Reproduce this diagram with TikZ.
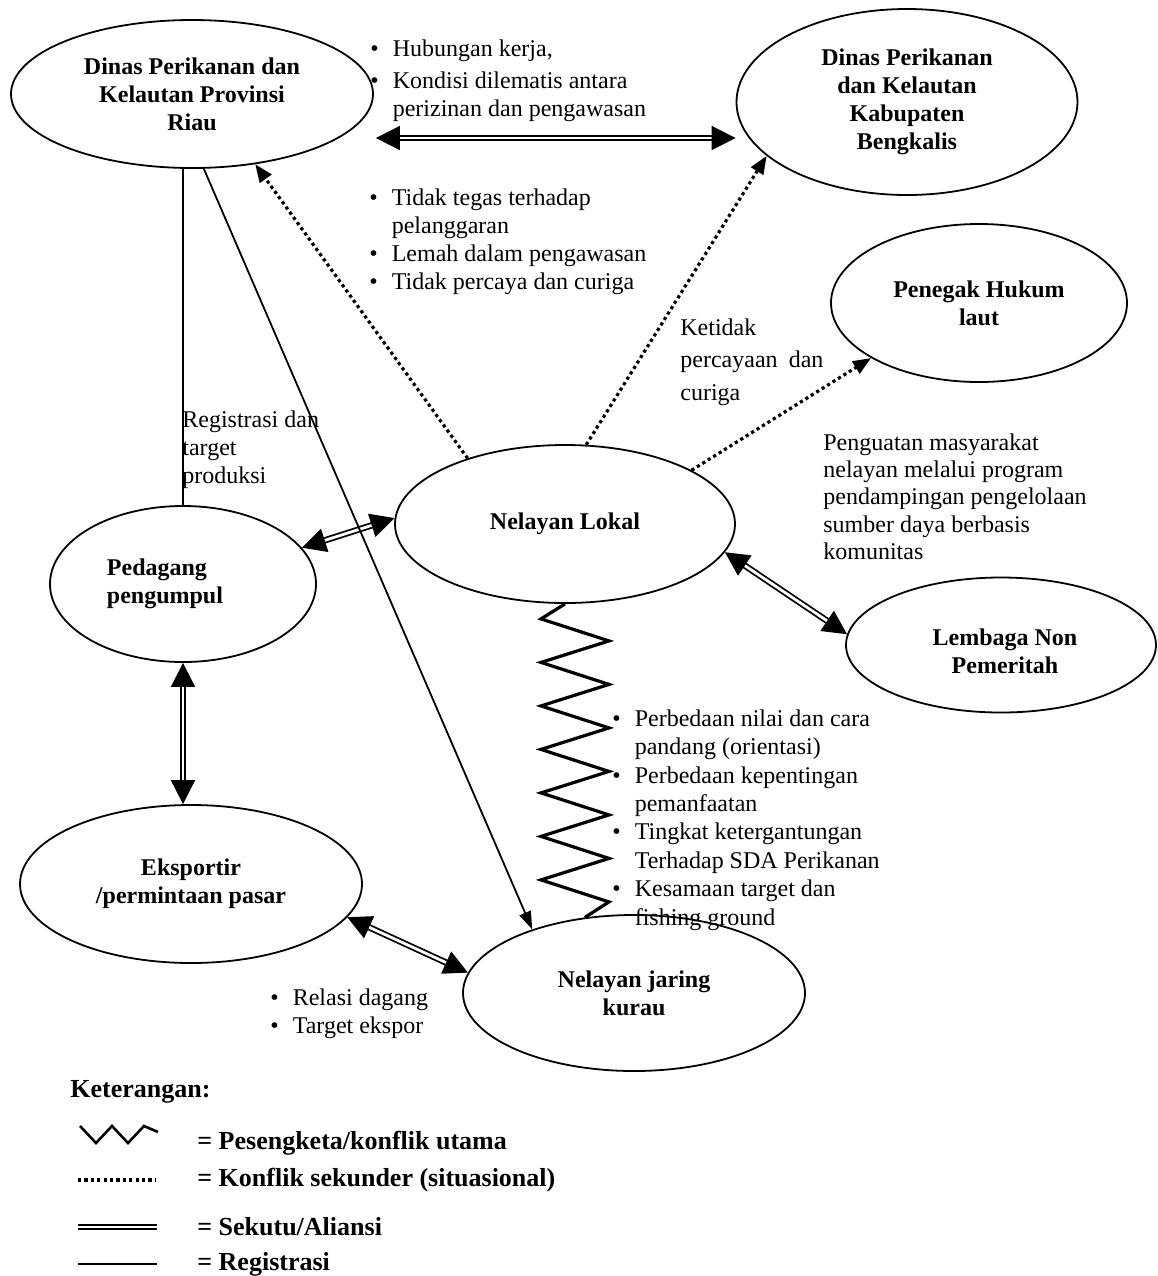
\documentclass[tikz,border=0pt]{standalone}
\usepackage{fontspec}
\setmainfont{Liberation Serif}
\usetikzlibrary{shapes.geometric, arrows.meta}
\definecolor{lineColor}{RGB}{0, 0, 0}
\tikzset{
    % --- aktor (elips) ---
    styleActor/.style={
        ellipse, draw=lineColor, line width=0.9pt, inner sep=0pt,
        align=center, font=\fontsize{12}{14}\selectfont\bfseries
    },
    % --- catatan ---
    styleNote/.style={
        inner sep=0pt, anchor=north west, font=\fontsize{12}{14}\selectfont
    },
    styleLegend/.style={
        inner sep=0pt, anchor=west, font=\fontsize{13}{15}\selectfont\bfseries
    },
    % --- garis ---
    connAlly/.style={
        draw=lineColor, line width=0.9pt, double=white, double distance=1.4pt,
        {Triangle[length=12pt, width=12pt]}-{Triangle[length=12pt, width=12pt]}
    },
    connSecond/.style={
        draw=lineColor, line width=1.6pt, dash pattern=on 1.6pt off 1.6pt,
        -{Triangle[length=9pt, width=7pt]}
    },
    connReg/.style={draw=lineColor, line width=0.9pt},
    connMain/.style={draw=lineColor, line width=1.6pt, line join=miter}
}

\begin{document}
\begin{tikzpicture}[x=0.5pt, y=-0.5pt]
	\useasboundingbox (0,0) rectangle (1158,1276);

	% =========================================================
	% 1. Aktor
	% =========================================================
	\node [styleActor, minimum width=181pt, minimum height=74pt] (prov) at (192,94)
		{Dinas Perikanan dan\\Kelautan Provinsi\\Riau};
	\node [styleActor, minimum width=170.5pt, minimum height=93pt] (bengkalis) at (907,102)
		{Dinas Perikanan\\dan Kelautan\\Kabupaten\\Bengkalis};
	\node [styleActor, minimum width=148pt, minimum height=79pt] (penegak) at (979,303)
		{Penegak Hukum\\laut};
	\node [styleActor, minimum width=170pt, minimum height=79pt] (lokal) at (565,524)
		{Nelayan Lokal};
	\node [styleActor, minimum width=133pt, minimum height=78pt,
		label={[font=\fontsize{12}{14}\selectfont\bfseries, align=left, xshift=-9pt]center:Pedagang\\pengumpul}]
		(pedagang) at (183,584) {};
	\node [styleActor, minimum width=155pt, minimum height=67.5pt,
		label={[font=\fontsize{12}{14}\selectfont\bfseries, align=center, xshift=2pt, yshift=-3pt]center:Lembaga Non\\Pemeritah}]
		(lembaga) at (1001,645) {};
	\node [styleActor, minimum width=171pt, minimum height=79pt] (eksportir) at (191,884)
		{Eksportir\\/permintaan pasar};
	\node [styleActor, minimum width=171pt, minimum height=78pt] (kurau) at (634,993)
		{Nelayan jaring\\kurau};

	% =========================================================
	% 2. Catatan
	% =========================================================
	\node [styleNote] (noteKerja) at (370,36) {\begin{tabular}{@{}c@{\hspace{7pt}}l@{}}
		\textbullet & Hubungan kerja,\\[2pt]
		\textbullet & Kondisi dilematis antara\\
		            & perizinan dan pengawasan
		\end{tabular}};
	\node [styleNote] (noteTegas) at (369,185) {\begin{tabular}{@{}c@{\hspace{7pt}}l@{}}
		\textbullet & Tidak tegas terhadap\\
		            & pelanggaran\\
		\textbullet & Lemah dalam pengawasan\\
		\textbullet & Tidak percaya dan curiga
		\end{tabular}};
	\node [styleNote, font=\fontsize{12}{16.25}\selectfont] (noteCuriga) at (680,312) {\begin{tabular}{@{}l@{}}
		Ketidak\\
		\makebox[71.5pt][s]{percayaan dan}\\
		curiga
		\end{tabular}};
	\node [styleNote] (noteRegistrasi) at (182,407) {\begin{tabular}{@{}l@{}}
		Registrasi dan\\
		target\\
		produksi
		\end{tabular}};
	\node [styleNote, font=\fontsize{12}{13.6}\selectfont] (notePenguatan) at (823,431) {\begin{tabular}{@{}l@{}}
		Penguatan masyarakat\\
		nelayan melalui program\\
		pendampingan pengelolaan\\
		sumber daya berbasis\\
		komunitas
		\end{tabular}};
	\node [styleNote, font=\fontsize{12}{14.2}\selectfont] (notePerbedaan) at (612,706) {\begin{tabular}{@{}c@{\hspace{7pt}}l@{}}
		\textbullet & Perbedaan nilai dan cara\\
		            & pandang (orientasi)\\
		\textbullet & Perbedaan kepentingan\\
		            & pemanfaatan\\
		\textbullet & Tingkat ketergantungan\\
		            & Terhadap SDA Perikanan\\
		\textbullet & Kesamaan target dan\\
		            & fishing ground
		\end{tabular}};
	\node [styleNote] (noteDagang) at (270,985) {\begin{tabular}{@{}c@{\hspace{7pt}}l@{}}
		\textbullet & Relasi dagang\\
		\textbullet & Target ekspor
		\end{tabular}};

	% =========================================================
	% 3. Hubungan
	% =========================================================
	% --- sekutu / aliansi ---
	\draw [connAlly] ([shift={(2,44)}]prov.east) -- ([shift={(0,36)}]bengkalis.west);
	\draw [connAlly] (pedagang.17) -- (lokal.178);
	\draw [connAlly] (pedagang.south) -- (pedagang.south |- eksportir.north);
	\draw [connAlly] (eksportir.-12) -- (kurau.173);
	\draw [connAlly] (lokal.-10) -- (lembaga.176);

	% --- konflik sekunder ---
	\draw [connSecond] (lokal.146) -- (prov.-48);
	\draw [connSecond] (lokal.75) -- (bengkalis.201);
	\draw [connSecond] (lokal.23) -- (penegak.207);

	% --- registrasi ---
	\draw [connReg] (prov.south -| pedagang.north) -- (pedagang.north);
	\draw [connReg, -{Triangle[length=9pt, width=6pt]}] (prov.-81) -- (kurau.148);

	% --- konflik utama ---
	\draw [connMain] (lokal.south) -- ++(-24,15)
		\foreach \i in {1,...,6} { -- ++(68,22) -- ++(-68,21.5) }
		-- ++(68,22) -- (kurau.123);

	% =========================================================
	% 4. Keterangan
	% =========================================================
	\node [styleLegend] (legTitle) at (70,1092) {Keterangan:};
	\draw [connMain, line width=1.3pt] (80,1126) -- (96,1143) -- (112,1126) -- (128,1143) -- (144,1126) -- (158,1132);
	\node [styleLegend] (legMain) at (197,1143) {= Pesengketa/konflik utama};
	\draw [connSecond, -] (78,1180) -- (156,1180);
	\node [styleLegend] (legSecond) at (197,1180) {= Konflik sekunder (situasional)};
	\draw [connAlly, -] (78,1227) -- (157,1227);
	\node [styleLegend] (legAlly) at (197,1227) {= Sekutu/Aliansi};
	\draw [connReg] (78,1264) -- (157,1264);
	\node [styleLegend] (legReg) at (197,1264) {= Registrasi};

\end{tikzpicture}
\end{document}
